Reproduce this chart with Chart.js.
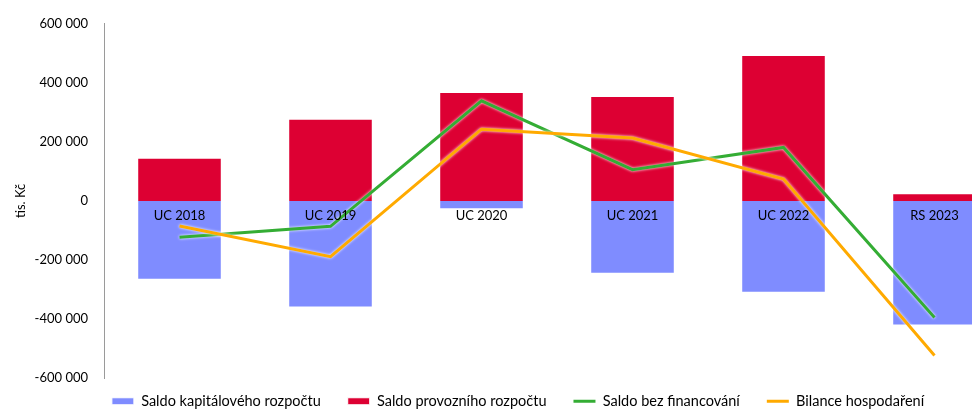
<!DOCTYPE html>
<html>
<head>
<meta charset="utf-8">
<script src="https://cdn.jsdelivr.net/npm/chart.js@4"></script>
<style>
  html, body { margin: 0; padding: 0; background: #fff; overflow: hidden; }
  #wrap { width: 1012px; height: 415px; }
</style>
</head>
<body>
<div id="wrap"><canvas id="saldo-chart"></canvas></div>
<script>
var years = ['UC 2018', 'UC 2019', 'UC 2020', 'UC 2021', 'UC 2022', 'RS 2023'];
var saldoKapital = [-267000, -361000, -28000, -247000, -311000, -422000];
var saldoProvoz = [146000, 278000, 369000, 355000, 494000, 26000];
var saldoBezFin = [-123000, -86000, 339000, 106000, 181000, -395000];
var bilance = [-85000, -189000, 243000, 213000, 74000, -524000];
var yTicks = [-600000, -400000, -200000, 0, 200000, 400000, 600000];

var fontName = 'Lato';

function fmt(v) {
    var s = String(Math.abs(v)).replace(/\B(?=(\d{3})+(?!\d))/g, ' ');
    return v < 0 ? '-' + s : s;
}

// white halo under the lines
var glow = {
    id: 'glow',
    beforeDatasetDraw(chart, args) {
        if (args.meta.type !== 'line') return;
        chart.ctx.save();
        chart.ctx.shadowColor = 'rgba(255,255,255,1)';
        chart.ctx.shadowBlur = 3;
    },
    afterDatasetDraw(chart, args) {
        if (args.meta.type !== 'line') return;
        chart.ctx.restore();
    }
};

// nudge legend into place (legend clips to its box, so only grow it upward)
var legendShift = {
    id: 'legendShift',
    afterLayout(chart) {
        var lg = chart.legend;
        lg.left += 13; lg.right += 13;
        lg.top -= 11;
    }
};

var ctx = document.getElementById('saldo-chart');
new Chart(ctx, {
    data: {
        labels: years,
        datasets: [{
            type: 'bar',
            label: 'Saldo kapitálového rozpočtu',
            data: saldoKapital,
            backgroundColor: '#7f8cff',
            borderColor: '#ffffff',
            borderWidth: 1,
            pointStyle: 'rect',
            order: 2
        }, {
            type: 'bar',
            label: 'Saldo provozního rozpočtu',
            data: saldoProvoz,
            backgroundColor: '#dd0033',
            borderColor: '#ffffff',
            borderWidth: 1,
            pointStyle: 'rect',
            order: 2
        }, {
            type: 'line',
            label: 'Saldo bez financování',
            data: saldoBezFin,
            borderColor: '#34ad34',
            backgroundColor: '#34ad34',
            borderWidth: 3,
            pointRadius: 0,
            pointStyle: 'line',
            tension: 0,
            order: 1
        }, {
            type: 'line',
            label: 'Bilance hospodaření',
            data: bilance,
            borderColor: '#ffaa00',
            backgroundColor: '#ffaa00',
            borderWidth: 3,
            pointRadius: 0,
            pointStyle: 'line',
            tension: 0,
            order: 0
        }]
    },
    options: {
        responsive: true,
        maintainAspectRatio: false,
        animation: false,
        layout: { padding: { top: 23, right: 2, left: 0, bottom: 0 } },
        datasets: { bar: { categoryPercentage: 1, barPercentage: 0.56 } },
        scales: {
            x: {
                stacked: true,
                position: { y: 0 },
                grid: { display: false, drawTicks: false },
                border: { display: false },
                ticks: { z: 1, color: '#000', padding: 7, font: { family: fontName, size: 13 } }
            },
            y: {
                min: -600000,
                max: 600000,
                afterBuildTicks: function (s) { s.ticks = yTicks.map(function (v) { return { value: v }; }); },
                afterFit: function (s) { s.width = 104; },
                grid: { display: false, drawTicks: false },
                border: { display: true, color: '#9a9a9a', width: 1 },
                ticks: {
                    color: '#000',
                    padding: 16,
                    font: { family: fontName, size: 13 },
                    callback: function (v) { return fmt(v); }
                },
                title: {
                    display: true,
                    text: 'tis. Kč',
                    color: '#000',
                    padding: { top: 13, bottom: 0 },
                    font: { family: fontName, size: 13 }
                }
            }
        },
        plugins: {
            tooltip: { enabled: false },
            legend: {
                position: 'bottom',
                maxHeight: 37,
                labels: {
                    usePointStyle: true,
                    pointStyleWidth: 22,
                    boxHeight: 7,
                    padding: 27,
                    color: '#000',
                    font: { family: fontName, size: 14.5 },
                    sort: function (a, b) { return a.datasetIndex - b.datasetIndex; }
                }
            }
        }
    },
    plugins: [glow, legendShift]
});
</script>
</body>
</html>
